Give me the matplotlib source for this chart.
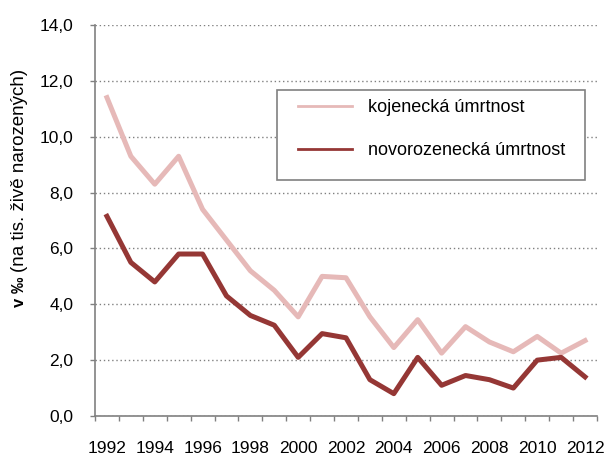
import numpy as np
import matplotlib.pyplot as plt
from matplotlib.patches import Rectangle
from matplotlib.ticker import FixedLocator, FuncFormatter

plt.rcParams['font.family'] = ['Liberation Sans', 'DejaVu Sans']

# data
years = list(range(1992, 2013))
kojenecka = [11.4, 9.3, 8.3, 9.3, 7.4, 6.3, 5.2, 4.5, 3.55, 5.0, 4.95,
             3.55, 2.45, 3.45, 2.25, 3.2, 2.65, 2.3, 2.85, 2.25, 2.7]
novorozenecka = [7.15, 5.5, 4.8, 5.8, 5.8, 4.3, 3.6, 3.25, 2.1, 2.95, 2.8,
                 1.3, 0.8, 2.1, 1.1, 1.45, 1.3, 1.0, 2.0, 2.1, 1.4]
labels = ['kojenecká úmrtnost', 'novorozenecká úmrtnost']

fig = plt.figure(figsize=(6.06, 4.57), dpi=100)
ax = fig.add_axes([95/606, 1-416/457, 502/606, 391/457])

ax.plot(years, kojenecka, color='#E6B9B8', lw=3.6, label=labels[0], solid_joinstyle='round')
ax.plot(years, novorozenecka, color='#953735', lw=3.6, label=labels[1], solid_joinstyle='round')

ax.set_xlim(1991.5, 2012.5)
ax.set_ylim(0, 14)
ax.set_yticks(np.arange(0, 14.1, 2))
ax.yaxis.set_major_formatter(FuncFormatter(lambda v, p: f'{v:.1f}'.replace('.', ',')))
ax.yaxis.grid(True, color='#808080', ls=(0, (1, 2)), lw=1.0)

# category axis: ticks between years, labels on every other year
ax.xaxis.set_major_locator(FixedLocator(np.arange(1991.5, 2013, 1)))
ax.xaxis.set_major_formatter(FuncFormatter(lambda v, p: ''))
ax.xaxis.set_minor_locator(FixedLocator(years[::2]))
ax.xaxis.set_minor_formatter(FuncFormatter(lambda v, p: str(int(round(v)))))
ax.tick_params(axis='x', which='minor', length=0, pad=18, labelsize=12.5)
ax.tick_params(axis='x', which='major', length=3.6, color='#808080', width=1)
ax.tick_params(axis='y', length=3.6, color='#808080', width=1, labelsize=12.5, pad=12)

for s in ['top', 'right']:
    ax.spines[s].set_visible(False)
for s in ['left', 'bottom']:
    ax.spines[s].set_color('#808080')
    ax.spines[s].set_linewidth(1.2)

# legend box drawn separately so padding can differ horizontally/vertically
ax.add_patch(Rectangle((182/502, 236/391), 308/502, 90/391, transform=ax.transAxes,
                       facecolor='white', edgecolor='#808080', lw=1.2, zorder=4))
leg = ax.legend(loc='upper left', bbox_to_anchor=(203/502, 317/391),
                fontsize=13, frameon=False, handlelength=3.0, handletextpad=0.85,
                labelspacing=1.45, borderpad=0, borderaxespad=0)
leg.set_zorder(5)
for h in leg.get_lines():
    h.set_linewidth(2)

fig.text(20/606, 1-307/457, 'v ‰', rotation=90, ha='center', va='bottom',
         fontsize=12, fontweight='bold')
fig.text(20/606, 1-272/457, '(na tis. živě narozených)', rotation=90,
         ha='center', va='bottom', fontsize=13.5)

plt.savefig('out.png', dpi=100)
